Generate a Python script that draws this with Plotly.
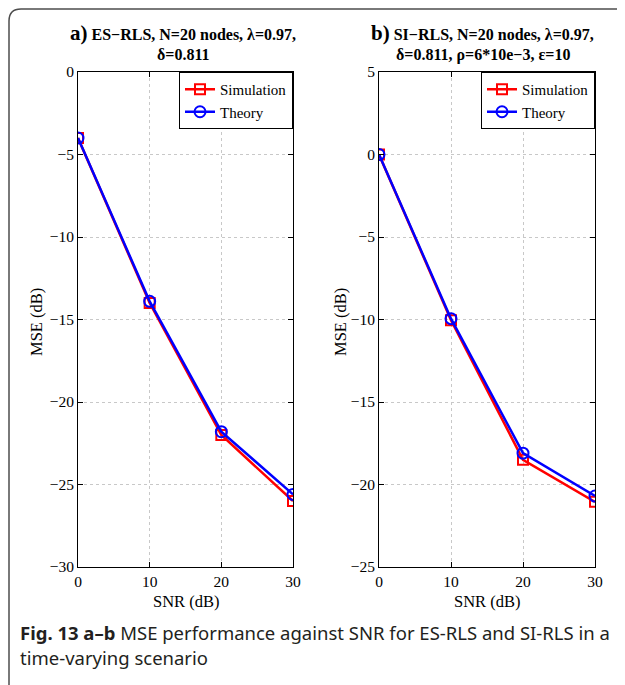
import plotly.graph_objects as go

# The page body has an 8px margin, so the figure is placed at (8, 8).
OFF = 8
FW, FH = 617, 677

snr = [0, 10, 20, 30]
# Panel a: ES-RLS
a_sim = [-4.0, -14.0, -22.0, -26.0]
a_theory = [-4.0, -13.9, -21.8, -25.6]
# Panel b: SI-RLS
b_sim = [0.0, -10.05, -18.5, -21.05]
b_theory = [0.0, -9.95, -18.1, -20.7]

x_ticks = [0, 10, 20, 30]
a_yticks = [0, -5, -10, -15, -20, -25, -30]
b_yticks = [5, 0, -5, -10, -15, -20, -25]

RED = "#ff0000"
BLUE = "#0000ff"
SERIF = "Liberation Serif, Times New Roman, serif"


def px_x(x):
    return (x - OFF) / FW


def px_y(y):
    return 1 - (y - OFF) / FH


fig = go.Figure()


def add_pair(sim, th, xa, ya, leg):
    fig.add_trace(go.Scatter(
        x=snr, y=sim, name="Simulation", xaxis=xa, yaxis=ya, legend=leg,
        mode="lines+markers",
        line=dict(color=RED, width=2.5),
        marker=dict(symbol="square-open", size=10, color=RED, line=dict(width=2, color=RED)),
    ))
    fig.add_trace(go.Scatter(
        x=snr, y=th, name="Theory", xaxis=xa, yaxis=ya, legend=leg,
        mode="lines+markers",
        line=dict(color=BLUE, width=2.5),
        marker=dict(symbol="circle-open", size=11, color=BLUE, line=dict(width=2, color=BLUE)),
    ))


add_pair(a_sim, a_theory, "x", "y", "legend")
add_pair(b_sim, b_theory, "x2", "y2", "legend2")

axis_common = dict(
    showline=True, linecolor="black", linewidth=1, mirror="ticks",
    ticks="inside", ticklen=5, tickcolor="black", tickwidth=1,
    showgrid=True, gridcolor="#c8c8c8", griddash="dot", gridwidth=1,
    zeroline=False, automargin=False,
    tickfont=dict(family=SERIF, size=15.5, color="black"),
)

a_l, a_r = 78, 293
b_l, b_r = 379, 595
top, bot = 72, 567

leg_common = dict(bgcolor="white", bordercolor="black", borderwidth=1,
                  font=dict(family=SERIF, size=15, color="black"),
                  tracegroupgap=0, itemwidth=30, xanchor="right", yanchor="top")

fig.update_layout(
    width=FW, height=FH,
    margin=dict(l=0, r=0, t=0, b=0, autoexpand=False),
    paper_bgcolor="white", plot_bgcolor="white",
    xaxis=dict(domain=[px_x(a_l), px_x(a_r)], range=[0, 30], tickvals=x_ticks,
               anchor="y", **axis_common),
    yaxis=dict(domain=[px_y(bot), px_y(top)], range=[-30, 0], tickvals=a_yticks,
               anchor="x", **axis_common),
    xaxis2=dict(domain=[px_x(b_l), px_x(b_r)], range=[0, 30], tickvals=x_ticks,
                anchor="y2", **axis_common),
    yaxis2=dict(domain=[px_y(bot), px_y(top)], range=[-25, 5], tickvals=b_yticks,
                anchor="x2", **axis_common),
    legend=dict(x=px_x(a_r), y=px_y(top), **leg_common),
    legend2=dict(x=px_x(b_r), y=px_y(top), **leg_common),
    showlegend=True,
)


def text_at(x, y, text, font, xanchor="center", yanchor="middle", angle=0):
    fig.add_annotation(x=px_x(x), y=px_y(y), xref="paper", yref="paper",
                       xanchor=xanchor, yanchor=yanchor, showarrow=False,
                       text=text, font=font, textangle=angle)


title_font = dict(family=SERIF, size=16, color="black")
axt_font = dict(family=SERIF, size=16.5, color="black")

# Panel titles
text_at(183, 33, "<b><span style='font-size:21px'>a)</span> ES−RLS, N=20 nodes, λ=0.97,</b>", title_font)
text_at(183, 55, "<b>δ=0.811</b>", title_font)
text_at(483, 33, "<b><span style='font-size:21px'>b)</span> SI−RLS, N=20 nodes, λ=0.97,</b>", title_font)
text_at(483, 55, "<b>δ=0.811, ρ=6*10e−3, ε=10</b>", title_font)

# Axis titles
text_at((a_l + a_r) / 2, 601, "SNR (dB)", axt_font)
text_at((b_l + b_r) / 2, 601, "SNR (dB)", axt_font)
text_at(36, 322, "MSE (dB)", axt_font, angle=-90)
text_at(340, 322, "MSE (dB)", axt_font, angle=-90)

# Caption
cap_font = dict(family="Noto Sans, Open Sans, sans-serif", size=18.5, color="#231f20")
text_at(18, 632, "<b>Fig. 13 a–b</b> MSE performance against SNR for ES-RLS and SI-RLS in a",
        cap_font, xanchor="left")
text_at(18, 657, "time-varying scenario", cap_font, xanchor="left")

# Outer frame (top + left with rounded corner)
x0, yt, r = 9, 9, 12
path = (f"M {px_x(x0)},{px_y(OFF + FH)} L {px_x(x0)},{px_y(yt + r)} "
        f"Q {px_x(x0)},{px_y(yt)} {px_x(x0 + r)},{px_y(yt)} L 1,{px_y(yt)}")
fig.add_shape(type="path", path=path, xref="paper", yref="paper",
              line=dict(color="#4d4d4d", width=1.5))

fig.write_html("out.html")
